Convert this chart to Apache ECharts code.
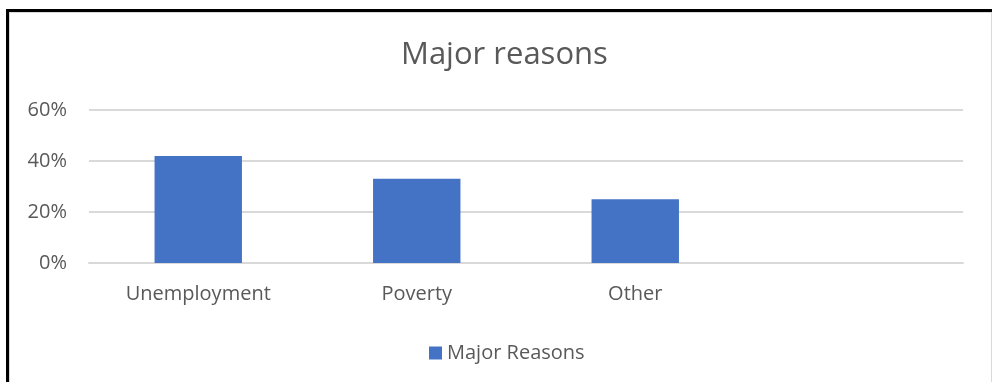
<!DOCTYPE html>
<html>
<head>
<meta charset="utf-8">
<script src="https://cdn.jsdelivr.net/npm/echarts@6/dist/echarts.min.js"></script>
<style>
  html, body { margin: 0; padding: 0; background: #fff; }
  #frame {
    position: absolute; left: 6px; top: 9px; width: 986px; height: 373px;
    border-top: 3px solid #000; border-left: 3px solid #000; box-sizing: border-box;
  }
  #inner {
    position: absolute; left: 0; top: 0; right: 0; bottom: -2px;
    border-top: 1px solid #d9d9d9; border-left: 1px solid #d9d9d9; border-right: 1px solid #d9d9d9;
  }
  #chart { position: absolute; left: 0; top: 0; width: 992px; height: 382px; }
</style>
</head>
<body>
<div id="frame"><div id="inner"></div></div>
<div id="chart"></div>
<script>
// Share of each major reason (fraction of total)
const categories = ['Unemployment', 'Poverty', 'Other', ''];
const majorReasons = [0.42, 0.33, 0.25, null];
const yTicks = { min: 0, max: 0.6, interval: 0.2 };

const textColor = '#595959';
const fontFamily = 'Open Sans, Noto Sans, sans-serif';

const chart = echarts.init(document.getElementById('chart'), null, { renderer: 'canvas' });
chart.setOption({
  backgroundColor: 'transparent',
  animation: false,
  title: {
    text: 'Major reasons',
    left: 396,
    top: 35,
    textStyle: { color: textColor, fontSize: 31, fontWeight: 'normal', fontFamily: fontFamily }
  },
  legend: {
    data: ['Major Reasons'],
    left: 424,
    top: 338,
    icon: 'rect',
    itemWidth: 13,
    itemHeight: 13,
    textStyle: { color: textColor, fontSize: 20, fontFamily: fontFamily }
  },
  grid: { left: 89, right: 29, top: 110, bottom: 119, containLabel: false },
  xAxis: {
    type: 'category',
    data: categories,
    axisLine: { show: true, lineStyle: { color: '#d9d9d9', width: 2 } },
    axisTick: { show: false },
    axisLabel: { color: textColor, fontSize: 20, margin: 21, fontFamily: fontFamily }
  },
  yAxis: {
    type: 'value',
    min: yTicks.min,
    max: yTicks.max,
    interval: yTicks.interval,
    axisLine: { show: false },
    axisTick: { show: false },
    splitLine: { lineStyle: { color: '#d9d9d9', width: 2 } },
    axisLabel: {
      color: textColor, fontSize: 20, margin: 22, fontFamily: fontFamily,
      formatter: v => Math.round(v * 100) + '%'
    }
  },
  series: [{
    name: 'Major Reasons',
    type: 'bar',
    data: majorReasons,
    barWidth: '40%',
    itemStyle: { color: '#4472c4' }
  }]
});
</script>
</body>
</html>
